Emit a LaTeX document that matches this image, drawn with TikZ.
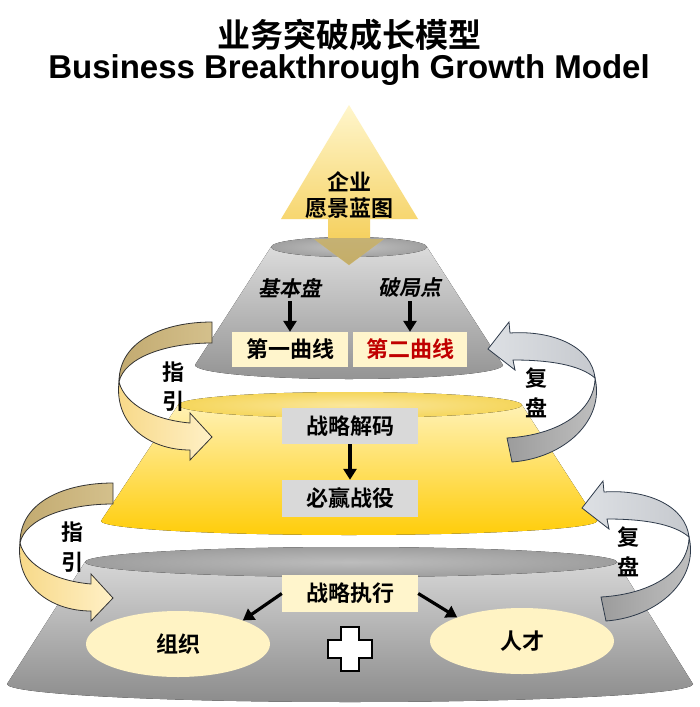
\documentclass[tikz,border=0pt]{standalone}
\usepackage{fontspec}
\setmainfont{Liberation Sans}
\newfontfamily\cjk{Noto Sans CJK SC}[BoldFont={Noto Sans CJK SC Bold}]
\newfontfamily\cjksl{Noto Sans CJK SC Bold}[FakeSlant=0.2]
\usetikzlibrary{arrows.meta,shapes.geometric}
\definecolor{cream}{HTML}{FFF5CC}
\definecolor{ellcream}{HTML}{FFF3C4}
\definecolor{boxgray}{HTML}{D9D9D9}
\definecolor{redc}{HTML}{C00000}
\definecolor{tanA}{HTML}{C2AA70}
\definecolor{tanB}{HTML}{D4C08C}
\definecolor{litA}{HTML}{F7D886}
\definecolor{litB}{HTML}{FFF0C6}
\definecolor{gA}{HTML}{DDE0E4}
\definecolor{gB}{HTML}{C6C9CE}
\definecolor{dA}{HTML}{9C9C9C}
\definecolor{dB}{HTML}{C2C2C2}
\definecolor{outl}{HTML}{333333}
\definecolor{outr}{HTML}{2E3A4A}
\definecolor{ytop}{HTML}{FFF1B4}
\definecolor{ybot}{HTML}{FFCD0A}
\definecolor{yellin}{HTML}{FBE79C}
\definecolor{yellout}{HTML}{F5D65C}
\definecolor{vtop}{HTML}{FFF6CC}
\definecolor{vbot}{HTML}{F3C94A}
\tikzset{
  lbl/.style={font=\cjk\bfseries\fontsize{22}{24}\selectfont, inner sep=0pt},
  slbl/.style={font=\cjksl\fontsize{21}{24}\selectfont, inner sep=0pt},
  cbox/.style={lbl, fill=cream, minimum width=114pt, minimum height=35pt},
  gbox/.style={lbl, fill=boxgray, minimum width=136pt, minimum height=36pt},
  ell/.style={lbl, ellipse, fill=ellcream, minimum width=184pt, minimum height=66pt},
  conn/.style={line width=3.2pt, -{Triangle[length=11pt,width=13pt]}},
  side/.style={font=\cjk\bfseries\fontsize{22}{24}\selectfont, inner sep=0pt},
  backl/.style={left color=tanA, right color=tanB, draw=outl, line width=0.8pt},
  frontl/.style={left color=litA, right color=litB, draw=outl, line width=0.8pt},
  backr/.style={left color=gA, right color=gB, draw=outr, line width=0.8pt},
  frontr/.style={left color=dA, right color=dB, draw=outr, line width=0.8pt},
}
\newcommand\leftcurl{%
  \path[backl] (212,322) .. controls (165,322) and (119,340) .. (119,382)
     .. controls (124,358) and (165,343) .. (212,343) -- cycle;
  \path[frontl] (119,382) .. controls (114,425) and (150,450) .. (190,450)
     -- (190,460) -- (212,437) -- (190,413) -- (190,423)
     .. controls (155,420) and (125,405) .. (119,382) -- cycle;}
\newcommand\rightcurl{%
  \path[backr] (510,333) .. controls (555,330) and (592,348) .. (595,378)
     .. controls (580,365) and (550,360) .. (513,360)
     -- (515,370) -- (488,349) -- (509,322) -- cycle;
  \path[frontr] (595,378) .. controls (605,420) and (565,458) .. (512,462)
     -- (507,438) .. controls (560,435) and (595,410) .. (595,378) -- cycle;}
\begin{document}
\begin{tikzpicture}[x=1pt,y=-1pt]
\useasboundingbox (0,0) rectangle (700,707);
\fill[white] (0,0) rectangle (700,707);

% titles
\node[font=\cjk\bfseries\fontsize{33}{36}\selectfont, inner sep=0pt] (t1) at (349,35) {业务突破成长模型};
\node[font=\bfseries\fontsize{33}{36}\selectfont, inner sep=0pt, anchor=base] (t2) at (349,78) {Business Breakthrough Growth Model};

% bottom grey frustum
\fill[top color=black!16, bottom color=black!45] (85,562) -- (7,684)
  .. controls (7,694) and (161,702) .. (350,702)
  .. controls (539,702) and (693,694) .. (693,684) -- (617,562) -- cycle;
\fill[inner color=black!26, outer color=black!38] (351,562) ellipse [x radius=266, y radius=15];

% yellow frustum
\fill[top color=ytop, bottom color=ybot] (178,405) -- (101,521)
  .. controls (101,528.7) and (212,535) .. (349,535)
  .. controls (486,535) and (597,528.7) .. (597,521) -- (522,405) -- cycle;
\fill[inner color=yellin, outer color=yellout] (350,405) ellipse [x radius=172, y radius=13];

% upper grey frustum
\fill[top color=black!14, bottom color=black!42] (271,247) -- (195,365)
  .. controls (195,372.7) and (264,379) .. (349,379)
  .. controls (434,379) and (503,372.7) .. (503,365) -- (427,247) -- cycle;
\fill[inner color=black!24, outer color=black!37] (349,247) ellipse [x radius=78, y radius=10];

% vision arrow
\path[top color=vtop, bottom color=vbot]
  (349,105) -- (418,219) -- (370,219) -- (370,239) -- (384,239) -- (349,265)
  -- (314,239) -- (328,239) -- (328,219) -- (281,219) -- cycle;
\begin{scope}
  \clip (349,105) -- (418,219) -- (370,219) -- (370,239) -- (384,239) -- (349,265)
  -- (314,239) -- (328,239) -- (328,219) -- (281,219) -- cycle;
  \fill[black!45, opacity=.45] (300,238) rectangle (400,270);
\end{scope}
\node[lbl] (qy) at (349,182) {企业};
\node[lbl] (yj) at (349,208) {愿景蓝图};

% curled arrows
\leftcurl
\begin{scope}[shift={(-99,161)}]\leftcurl\end{scope}
\rightcurl
\begin{scope}[shift={(94,159)}]\rightcurl\end{scope}

\node[side] (z1) at (173,372) {指};
\node[side] (y1) at (173,401) {引};
\node[side] (f1) at (536,378) {复};
\node[side] (p1) at (536,408) {盘};
\node[side] (z2) at (72,532) {指};
\node[side] (y2) at (72,562) {引};
\node[side] (f2) at (628,537) {复};
\node[side] (p2) at (628,567) {盘};

% upper level
\node[slbl] (jbp) at (290,288) {基本盘};
\node[slbl] (pjd) at (410,288) {破局点};
\node[cbox, minimum width=116pt] (c1) at (290,349.5) {第一曲线};
\node[cbox, text=redc] (c2) at (410,349.5) {第二曲线};
\draw[conn, shorten <=3pt] (jbp.south) -- (c1.north);
\draw[conn, shorten <=3pt] (pjd.south) -- (c2.north);

% middle level
\node[gbox] (slj) at (350,426) {战略解码};
\node[gbox, minimum height=37pt] (bys) at (350,498.5) {必赢战役};
\draw[conn] (slj) -- (bys);

% bottom level
\node[cbox, minimum width=136pt, minimum height=37pt] (zl) at (350,593.5) {战略执行};
\node[ell] (zz) at (178,644) {组织};
\node[ell] (rc) at (522,641) {人才};
\draw[conn] (zl.west) -- (zz.20);
\draw[conn] (zl.east) -- (rc.160);

% plus sign
\draw[fill=white, line width=2.5pt, line join=miter]
  (341,627) -- (359,627) -- (359,640) -- (372,640) -- (372,658) -- (359,658)
  -- (359,671) -- (341,671) -- (341,658) -- (328,658) -- (328,640) -- (341,640) -- cycle;
\end{tikzpicture}
\end{document}
